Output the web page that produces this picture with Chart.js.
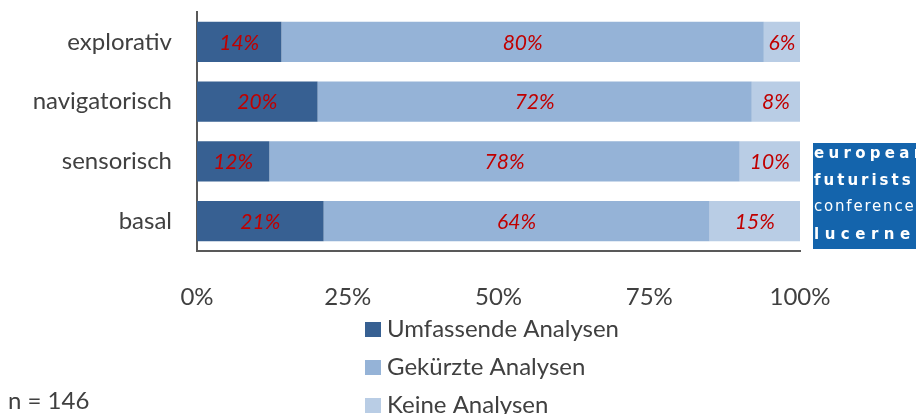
<!DOCTYPE html>
<html>
<head>
<meta charset="utf-8">
<script src="https://cdn.jsdelivr.net/npm/chart.js@4"></script>
<style>
  html, body { margin: 0; padding: 0; background: #fff; }
  #wrap { width: 916px; height: 414px; position: relative; }
</style>
</head>
<body>
<div id="wrap"><canvas id="analysenChart" width="916" height="414"></canvas></div>
<script>
const categories = ["explorativ", "navigatorisch", "sensorisch", "basal"];
const umfassende = [14, 20, 12, 21];
const gekuerzte = [80, 72, 78, 64];
const keine = [6, 8, 10, 15];
const seriesNames = ["Umfassende Analysen", "Gekürzte Analysen", "Keine Analysen"];
const xTicks = [0, 25, 50, 75, 100];

const FONT = "Lato, 'Open Sans', sans-serif";

// Prozentwerte in die Segmente schreiben
const segmentLabels = {
    id: "segmentLabels",
    afterDatasetsDraw(chart) {
        const ctx = chart.ctx;
        ctx.save();
        ctx.font = "italic 21px " + FONT;
        ctx.fillStyle = "#c00000";
        ctx.textAlign = "center";
        ctx.textBaseline = "middle";
        chart.data.datasets.forEach((ds, i) => {
            chart.getDatasetMeta(i).data.forEach((bar, j) => {
                const mid = (bar.x + bar.base) / 2;
                ctx.fillText(ds.data[j] + "%", mid, bar.y + 1);
            });
        });
        ctx.restore();
    }
};

// vertikale Legende, Stichprobe und Logo
const extras = {
    id: "extras",
    afterDraw(chart) {
        const ctx = chart.ctx;
        ctx.save();
        ctx.textBaseline = "middle";
        ctx.textAlign = "left";
        ctx.font = "24px " + FONT;
        chart.data.datasets.forEach((ds, i) => {
            const y = 329 + i * 38;
            ctx.fillStyle = ds.backgroundColor;
            ctx.fillRect(365, y - 7, 16, 15);
            ctx.fillStyle = "#404040";
            ctx.fillText(ds.label, 387, y);
        });
        ctx.fillText("n = 146", 8, 401);

        // Logo
        ctx.fillStyle = "#1464ac";
        ctx.fillRect(813, 143, 110, 106);
        ctx.fillStyle = "#ffffff";
        const lines = [
            ["european", "bold 15px", "4.3px", 154],
            ["futurists", "900 15px", "3px", 181],
            ["conference", "15px", "1.8px", 207],
            ["lucerne", "900 15px", "5.5px", 235]
        ];
        lines.forEach(([t, f, ls, y]) => {
            ctx.font = f + " 'DejaVu Sans', sans-serif";
            ctx.letterSpacing = ls;
            ctx.fillText(t, 814, y);
        });
        ctx.restore();
    }
};

new Chart(document.getElementById("analysenChart"), {
    type: "bar",
    data: {
        labels: categories,
        datasets: [
            { label: seriesNames[0], data: umfassende, backgroundColor: "#376092" },
            { label: seriesNames[1], data: gekuerzte, backgroundColor: "#95b3d7" },
            { label: seriesNames[2], data: keine, backgroundColor: "#b9cde5" }
        ]
    },
    options: {
        indexAxis: "y",
        responsive: false,
        animation: false,
        layout: { padding: { top: 12, right: 116, bottom: 0, left: 0 } },
        datasets: {
            bar: { barPercentage: 0.67, categoryPercentage: 1, borderWidth: 0 }
        },
        plugins: {
            legend: { display: false },
            tooltip: { enabled: false }
        },
        scales: {
            x: {
                stacked: true,
                min: 0,
                max: 100,
                afterFit: (s) => { s.height = 163; },
                afterBuildTicks: (s) => { s.ticks = xTicks.map(v => ({ value: v })); },
                grid: { display: false, drawTicks: false },
                border: { display: true, color: "#595959", width: 2 },
                ticks: {
                    padding: 32,
                    color: "#404040",
                    font: { family: FONT, size: 24 },
                    callback: (v) => v + "%"
                }
            },
            y: {
                stacked: true,
                afterFit: (s) => {
                    s.width = 197;
                    s.paddingTop = 0;
                    s.paddingBottom = 0;
                },
                grid: { display: false, drawTicks: false },
                border: { display: true, color: "#595959", width: 2 },
                ticks: {
                    padding: 25,
                    color: "#404040",
                    font: { family: FONT, size: 24 }
                }
            }
        }
    },
    plugins: [segmentLabels, extras]
});
</script>
</body>
</html>
